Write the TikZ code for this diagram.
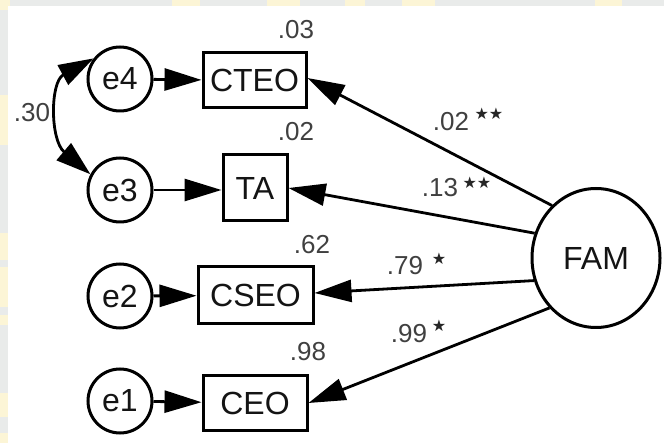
\documentclass[tikz,border=0pt]{standalone}
\usepackage{fontspec}
\setmainfont{Liberation Sans}
\newfontfamily\symfont{DejaVu Sans}
\usetikzlibrary{arrows.meta,shapes.geometric}
\definecolor{framegray}{HTML}{E9EBEA}
\definecolor{wmyellow}{HTML}{FCF5D6}
\begin{document}
\begin{tikzpicture}[x=1pt,y=-1pt,
  every node/.style={font=\fontsize{32}{36}\selectfont, text=black!92},
  err/.style={circle, draw, line width=3pt, minimum size=64pt, inner sep=0pt},
  obs/.style={rectangle, draw, line width=3pt, inner sep=0pt},
  lat/.style={ellipse, draw, line width=3pt, minimum width=128pt, minimum height=139pt, inner sep=0pt},
  effect/.style={line width=2.8pt, -{Triangle[length=37pt,width=22pt]}},
  num/.style={font=\fontsize{26}{29}\selectfont, text=black!75, inner sep=0pt},
  sig/.style={font=\symfont\fontsize{16}{18}\selectfont, text=black!85, inner sep=0pt}]

% frame and panel
\fill[framegray] (0,0) rectangle (664,443);
\foreach \a/\b in {0/10,172/200,267/300,345/365,402/435,595/622}
  \fill[wmyellow] (\a,0) rectangle (\b,6);
\foreach \a/\b in {0/10,95/145,233/260,267/307,315/325,393/417,433/443}
  \fill[wmyellow] (0,\a) rectangle (8,\b);
\fill[white] (8,6) rectangle (664,443);
\useasboundingbox (0,0) rectangle (664,443);

% error terms
\node[err] (e4) at (120,79)  {e4};
\node[err] (e3) at (120,190) {e3};
\node[err] (e2) at (120,296) {e2};
\node[err] (e1) at (120,401) {e1};

% observed indicators
\node[obs, minimum width=103pt, minimum height=55pt] (CTEO) at (254.5,80.5) {CTEO};
\node[obs, minimum width=64pt,  minimum height=66pt] (TA)   at (255,188)    {TA};
\node[obs, minimum width=115pt, minimum height=57pt] (CSEO) at (255.5,295.5) {CSEO};
\node[obs, minimum width=104pt, minimum height=54pt] (CEO)  at (255,403)    {CEO};

% latent factor
\node[lat] (FAM) at (596,258) {FAM};

% error paths
\draw[effect] (e4) -- (CTEO);
\draw[effect] (e3.east) -- (TA.west |- e3.east);
\draw[effect] (e2) -- (CSEO);
\draw[effect] (e1) -- (CEO);

% factor loadings
\draw[effect] (FAM.130.8) -- ([yshift=2.5pt]CTEO.east);
\draw[effect] (FAM.158.4) -- (TA.east);
\draw[effect] (FAM.200.6) -- ([yshift=2.5pt]CSEO.east);
\draw[effect] (FAM.227.4) -- (CEO.east);

% error covariance
\draw[line width=2.8pt, {Triangle[length=35pt,width=22pt]}-{Triangle[length=35pt,width=22pt]}]
  (e4.142) .. controls (50,82) and (50,140) .. (e3.152);

% squared multiple correlations
\node[num] (r4) at (296,30)  {.03};
\node[num] (r3) at (296,132) {.02};
\node[num] (r2) at (312,245) {.62};
\node[num] (r1) at (308,352) {.98};
\node[num] (cv) at (32,113)  {.30};

% standardized loadings with significance marks
\node[num] (l4) at (451,122) {.02};
\node[sig] (s4) at (489,114) {★★};
\node[num] (l3) at (440,188) {.13};
\node[sig] (s3) at (477,183) {★★};
\node[num] (l2) at (405,266) {.79};
\node[sig] (s2) at (439,259) {★};
\node[num] (l1) at (409,334) {.99};
\node[sig] (s1) at (439,326) {★};
\end{tikzpicture}
\end{document}
